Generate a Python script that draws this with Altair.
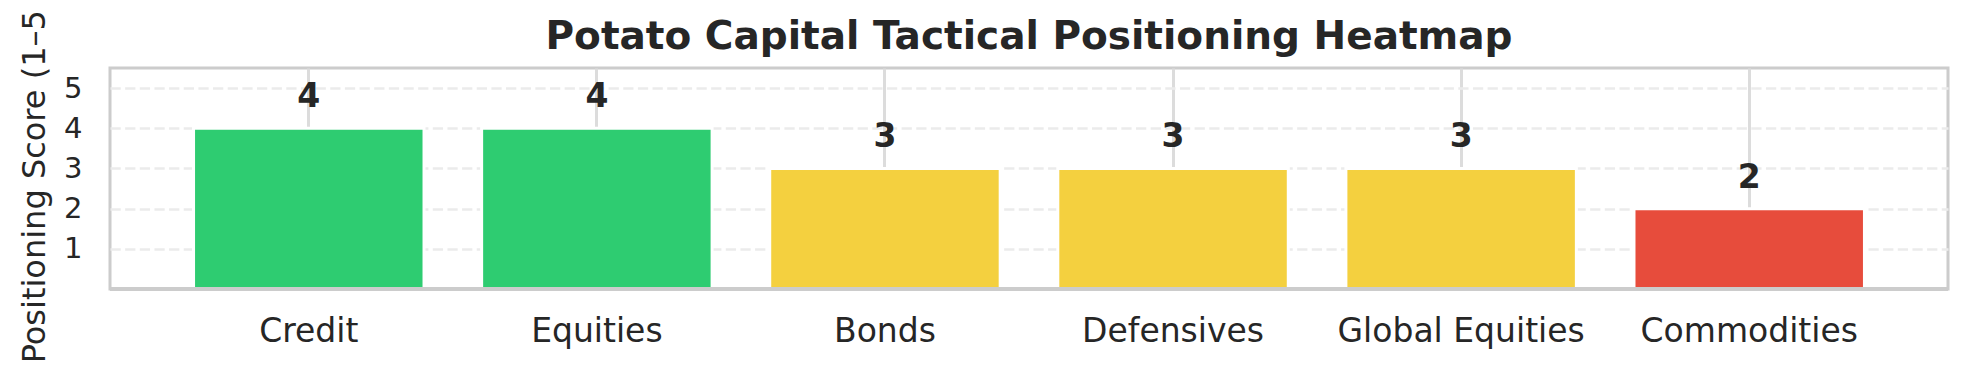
import altair as alt
import pandas as pd

categories = ["Credit", "Equities", "Bonds", "Defensives", "Global Equities", "Commodities"]
scores = [4, 4, 3, 3, 3, 2]
score_levels = [2, 3, 4]
level_colors = ["#e74c3c", "#f4d03f", "#2ecc71"]
y_ticks = [1, 2, 3, 4, 5]

df = pd.DataFrame({"category": categories, "score": scores})

W, H = 1838, 221
FONT = "DejaVu Sans"
TEXT = "#262626"

x = alt.X(
    "category:N",
    sort=None,
    title=None,
    scale=alt.Scale(paddingInner=0.2, paddingOuter=0.29),
    axis=alt.Axis(
        labelFontSize=33, labelColor=TEXT, labelFont=FONT, labelAngle=0,
        labelBaseline="alphabetic", labelPadding=52, ticks=False, domain=False,
        grid=True, gridColor="#dcdcdc", gridWidth=3, bandPosition=0.5,
        labelLimit=0,
    ),
)
y = alt.Y(
    "score:Q",
    scale=alt.Scale(domain=[0, 5.5], nice=False, zero=True),
    axis=alt.Axis(
        values=y_ticks, title="Positioning Score (1–5)",
        labelFontSize=29, labelColor=TEXT, labelFont=FONT, labelPadding=28,
        ticks=False, domain=False, grid=True, gridColor="#ebebeb",
        gridWidth=2.7, gridDash=[10.25, 4.4],
        titleFontSize=32, titleFont=FONT, titleColor=TEXT, titleFontWeight="normal",
        titleAngle=270, titleX=-66, titleY=112, titleBaseline="alphabetic",
        titleAlign="center",
    ),
)

bars = alt.Chart(df).mark_bar(stroke="white", strokeWidth=3).encode(
    x=x,
    y=y,
    color=alt.Color("score:O", scale=alt.Scale(domain=score_levels, range=level_colors), legend=None),
)

labels = alt.Chart(df).mark_text(
    dy=-21, baseline="alphabetic", fontSize=33, fontWeight="bold", font=FONT, color=TEXT
).encode(x=x, y=y, text="score:Q")

baseline = alt.Chart(df).mark_rule(color="#cccccc", strokeWidth=3).encode(
    y=alt.datum(0, type="quantitative")
)

chart = (
    alt.layer(bars, labels, baseline)
    .properties(
        width=W,
        height=H,
        padding={"left": 102, "top": 60, "right": 12, "bottom": 71},
        autosize=alt.AutoSizeParams(type="none"),
        title=alt.TitleParams(
            "Potato Capital Tactical Positioning Heatmap",
            fontSize=39, fontWeight="bold", font=FONT, color=TEXT,
            anchor="middle", frame="group", baseline="alphabetic", offset=18,
            dy=109,
        ),
    )
    .configure_view(stroke="#cccccc", strokeWidth=3)
)

chart.save("out.html", embed_options={"renderer": "svg", "actions": False})
